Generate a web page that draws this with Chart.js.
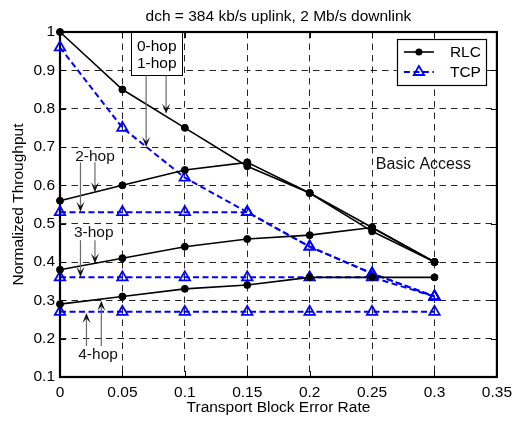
<!DOCTYPE html>
<html><head><meta charset="utf-8">
<script src="https://cdn.jsdelivr.net/npm/chart.js@4.4.0/dist/chart.umd.min.js"></script>
<style>html,body{margin:0;padding:0;background:#fff}</style>
</head><body>
<canvas id="c" width="518" height="424"></canvas>
<script>
// ---- data ----
const errorRates = [0, 0.05, 0.1, 0.15, 0.2, 0.25, 0.3];
const rlcHop0 = [1.00, 0.85, 0.75, 0.65, 0.58, 0.48, 0.40];
const rlcHop2 = [0.56, 0.60, 0.64, 0.66, 0.58, 0.49, 0.40];
const rlcHop3 = [0.38, 0.41, 0.44, 0.46, 0.47, 0.49, 0.40];
const rlcHop4 = [0.29, 0.31, 0.33, 0.34, 0.36, 0.36, 0.36];
const tcpHop0 = [0.96, 0.75, 0.62, 0.53, 0.44, 0.37, 0.31];
const tcpHop2 = [0.53, 0.53, 0.53, 0.53, 0.44, 0.37, 0.31];
const tcpHop3 = [0.36, 0.36, 0.36, 0.36, 0.36, 0.36, 0.31];
const tcpHop4 = [0.27, 0.27, 0.27, 0.27, 0.27, 0.27, 0.27];
const xTickValues = [0, 0.05, 0.1, 0.15, 0.2, 0.25, 0.3, 0.35];
const xTickLabels = ['0', '0.05', '0.1', '0.15', '0.2', '0.25', '0.3', '0.35'];
const yTickValues = [0.1, 0.2, 0.3, 0.4, 0.5, 0.6, 0.7, 0.8, 0.9, 1];
const yTickLabels = ['0.1', '0.2', '0.3', '0.4', '0.5', '0.6', '0.7', '0.8', '0.9', '1'];
const titleText = 'dch = 384 kb/s uplink, 2 Mb/s downlink';
const xTitle = 'Transport Block Error Rate';
const yTitle = 'Normalized Throughput';
const legendNames = ['RLC', 'TCP'];

const FONT = '"Liberation Sans", Arial, sans-serif';
const FS = 15.5;
const pts = arr => errorRates.map((e, i) => ({x: e, y: arr[i]}));
const rlcStyle = {borderColor: '#000', borderWidth: 1.6, pointRadius: 3.5, pointHoverRadius: 3.5,
  pointBackgroundColor: '#000', pointBorderColor: '#000', pointBorderWidth: 1, tension: 0, clip: false, fill: false};
const tcpStyle = {borderColor: '#0000ff', borderWidth: 2, borderDash: [6, 3.5], pointStyle: 'triangle',
  pointRadius: 6, pointHoverRadius: 6, pointBorderColor: '#0000ff', pointBackgroundColor: 'rgba(0,0,0,0)',
  pointBorderWidth: 1.8, tension: 0, clip: false, fill: false};

const datasets = [
  Object.assign({label: 'RLC 0-hop', data: pts(rlcHop0)}, rlcStyle),
  Object.assign({label: 'RLC 2-hop', data: pts(rlcHop2)}, rlcStyle),
  Object.assign({label: 'RLC 3-hop', data: pts(rlcHop3)}, rlcStyle),
  Object.assign({label: 'RLC 4-hop', data: pts(rlcHop4)}, rlcStyle),
  Object.assign({label: 'TCP 0-hop', data: pts(tcpHop0)}, tcpStyle),
  Object.assign({label: 'TCP 2-hop', data: pts(tcpHop2)}, tcpStyle),
  Object.assign({label: 'TCP 3-hop', data: pts(tcpHop3)}, tcpStyle),
  Object.assign({label: 'TCP 4-hop', data: pts(tcpHop4)}, tcpStyle),
];

function arrow(ctx, x1, y1, x2, y2) {
  const L = 10, W = 8;
  const dx = x2 - x1, dy = y2 - y1, len = Math.hypot(dx, dy);
  const ux = dx / len, uy = dy / len, nx = -uy, ny = ux;
  ctx.strokeStyle = '#6a6a6a'; ctx.lineWidth = 1.2; ctx.setLineDash([]);
  ctx.beginPath(); ctx.moveTo(x1, y1); ctx.lineTo(x2 - ux * L * 0.6, y2 - uy * L * 0.6); ctx.stroke();
  ctx.fillStyle = '#111';
  ctx.beginPath();
  ctx.moveTo(x2, y2);
  ctx.lineTo(x2 - ux * L + nx * W / 2, y2 - uy * L + ny * W / 2);
  ctx.lineTo(x2 - ux * L * 0.55, y2 - uy * L * 0.55);
  ctx.lineTo(x2 - ux * L - nx * W / 2, y2 - uy * L - ny * W / 2);
  ctx.closePath(); ctx.fill();
}

const decor = {
  id: 'decor',
  beforeDatasetsDraw(chart) {
    const {ctx, chartArea: a, scales: {x, y}} = chart;
    ctx.save();
    ctx.strokeStyle = '#000'; ctx.lineWidth = 1; ctx.setLineDash([]);
    const tl = 6;
    ctx.beginPath();
    xTickValues.forEach(v => {
      const px = Math.round(x.getPixelForValue(v)) + 0.5;
      ctx.moveTo(px, a.bottom); ctx.lineTo(px, a.bottom - tl);
      ctx.moveTo(px, a.top); ctx.lineTo(px, a.top + tl);
    });
    yTickValues.forEach(v => {
      const py = Math.round(y.getPixelForValue(v)) + 0.5;
      ctx.moveTo(a.left, py); ctx.lineTo(a.left + tl, py);
      ctx.moveTo(a.right, py); ctx.lineTo(a.right - tl, py);
    });
    ctx.stroke();
    ctx.lineWidth = 2.2;
    ctx.strokeRect(a.left, a.top, a.right - a.left, a.bottom - a.top);
    ctx.restore();
  },
  afterDatasetsDraw(chart) {
    const {ctx, chartArea: a, scales: {x, y}} = chart;
    const X = v => x.getPixelForValue(v), Y = v => y.getPixelForValue(v);
    ctx.save();
    ctx.font = FS + 'px ' + FONT; ctx.fillStyle = '#000';
    ctx.textAlign = 'center'; ctx.textBaseline = 'middle';
    // 0-hop / 1-hop box
    const bx1 = X(0.057), bx2 = X(0.098), by1 = Y(1.0), by2 = Y(0.887);
    ctx.fillStyle = '#fff'; ctx.fillRect(bx1, by1, bx2 - bx1, by2 - by1);
    ctx.strokeStyle = '#000'; ctx.lineWidth = 1; ctx.setLineDash([]);
    ctx.strokeRect(Math.round(bx1) + 0.5, Math.round(by1) + 0.5, Math.round(bx2 - bx1), Math.round(by2 - by1));
    ctx.fillStyle = '#000';
    ctx.fillText('0-hop', (bx1 + bx2) / 2, Y(0.962));
    ctx.fillText('1-hop', (bx1 + bx2) / 2, Y(0.916));
    arrow(ctx, X(0.069), by2, X(0.069), Y(0.70));
    arrow(ctx, X(0.085), by2, X(0.085), Y(0.787));
    // 2-hop
    ctx.fillText('2-hop', X(0.028), Y(0.674));
    arrow(ctx, X(0.0164), Y(0.66), X(0.0164), Y(0.531));
    arrow(ctx, X(0.028), Y(0.66), X(0.028), Y(0.582));
    // 3-hop
    ctx.fillText('3-hop', X(0.027), Y(0.477));
    arrow(ctx, X(0.0164), Y(0.457), X(0.0164), Y(0.361));
    arrow(ctx, X(0.028), Y(0.457), X(0.028), Y(0.396));
    // 4-hop
    ctx.fillText('4-hop', X(0.0305), Y(0.157));
    arrow(ctx, X(0.0212), Y(0.181), X(0.0212), Y(0.267));
    arrow(ctx, X(0.0331), Y(0.181), X(0.0331), Y(0.299));
    // Basic Access
    ctx.textAlign = 'left';
    ctx.font = '16px ' + FONT;
    ctx.fillText('Basic Access', X(0.253), Y(0.655));

    // legend
    const lx1 = a.right - 100, ly1 = a.top + 7, lw = 89, lh = 46;
    ctx.fillStyle = '#fff'; ctx.fillRect(lx1, ly1, lw, lh);
    ctx.strokeStyle = '#000'; ctx.lineWidth = 1.2; ctx.strokeRect(Math.round(lx1) + 0.5, Math.round(ly1) + 0.5, lw, lh);
    const r1 = ly1 + 13, r2 = ly1 + 33, sx1 = lx1 + 7, sx2 = lx1 + 37, sc = (sx1 + sx2) / 2;
    ctx.strokeStyle = '#000'; ctx.lineWidth = 1.6; ctx.setLineDash([]);
    ctx.beginPath(); ctx.moveTo(sx1, r1); ctx.lineTo(sx2, r1); ctx.stroke();
    ctx.fillStyle = '#000'; ctx.beginPath(); ctx.arc(sc, r1, 3.5, 0, Math.PI * 2); ctx.fill();
    ctx.strokeStyle = '#0000ff'; ctx.lineWidth = 2; ctx.setLineDash([6, 3.5]);
    ctx.beginPath(); ctx.moveTo(sx1, r2); ctx.lineTo(sx2, r2); ctx.stroke();
    ctx.setLineDash([]); ctx.lineWidth = 1.8;
    const tr = 6;
    ctx.beginPath();
    for (let k = 0; k < 3; k++) {
      const ang = k * 2 * Math.PI / 3;
      const px = sc + Math.sin(ang) * tr, py = r2 - Math.cos(ang) * tr;
      k ? ctx.lineTo(px, py) : ctx.moveTo(px, py);
    }
    ctx.closePath(); ctx.stroke();
    ctx.fillStyle = '#000'; ctx.font = FS + 'px ' + FONT; ctx.textAlign = 'left'; ctx.textBaseline = 'middle';
    ctx.fillText(legendNames[0], lx1 + 53, r1 + 1);
    ctx.fillText(legendNames[1], lx1 + 53, r2 + 1);
    ctx.restore();
  },
  afterDraw(chart) {
    const {ctx, chartArea: a} = chart;
    ctx.save();
    ctx.fillStyle = '#000'; ctx.font = FS + 'px ' + FONT;
    ctx.textAlign = 'center'; ctx.textBaseline = 'alphabetic';
    const cx = (a.left + a.right) / 2;
    ctx.fillText(titleText, cx, 21);
    ctx.fillText(xTitle, cx, 412);
    ctx.translate(23, (a.top + a.bottom) / 2);
    ctx.rotate(-Math.PI / 2);
    ctx.fillText(yTitle, 0, 0);
    ctx.restore();
  }
};

Chart.defaults.font.family = FONT;
Chart.defaults.font.size = FS;
Chart.defaults.color = '#000';

new Chart(document.getElementById('c'), {
  type: 'line',
  data: {datasets},
  options: {
    responsive: false, animation: false, devicePixelRatio: 1,
    layout: {padding: {left: 0, right: 17, top: 32, bottom: 0}},
    plugins: {legend: {display: false}, tooltip: {enabled: false}, title: {display: false}},
    scales: {
      x: {
        type: 'linear', min: 0, max: 0.35,
        afterBuildTicks: s => { s.ticks = xTickValues.map(v => ({value: v})); },
        afterFit: s => { s.height = 47; },
        ticks: {callback: (v, i) => xTickLabels[i], padding: 6, maxRotation: 0, autoSkip: false, color: '#000'},
        grid: {drawTicks: false, color: 'rgba(0,0,0,0.85)', lineWidth: 1},
        border: {display: false, dash: [6.5, 5]}
      },
      y: {
        type: 'linear', min: 0.1, max: 1,
        afterBuildTicks: s => { s.ticks = yTickValues.map(v => ({value: v})); },
        afterFit: s => { s.width = 60; },
        ticks: {callback: (v, i) => yTickLabels[i], padding: 5, autoSkip: false, color: '#000'},
        grid: {drawTicks: false, color: 'rgba(0,0,0,0.85)', lineWidth: 1},
        border: {display: false, dash: [6.5, 5]}
      }
    }
  },
  plugins: [decor]
});
</script>
</body></html>
